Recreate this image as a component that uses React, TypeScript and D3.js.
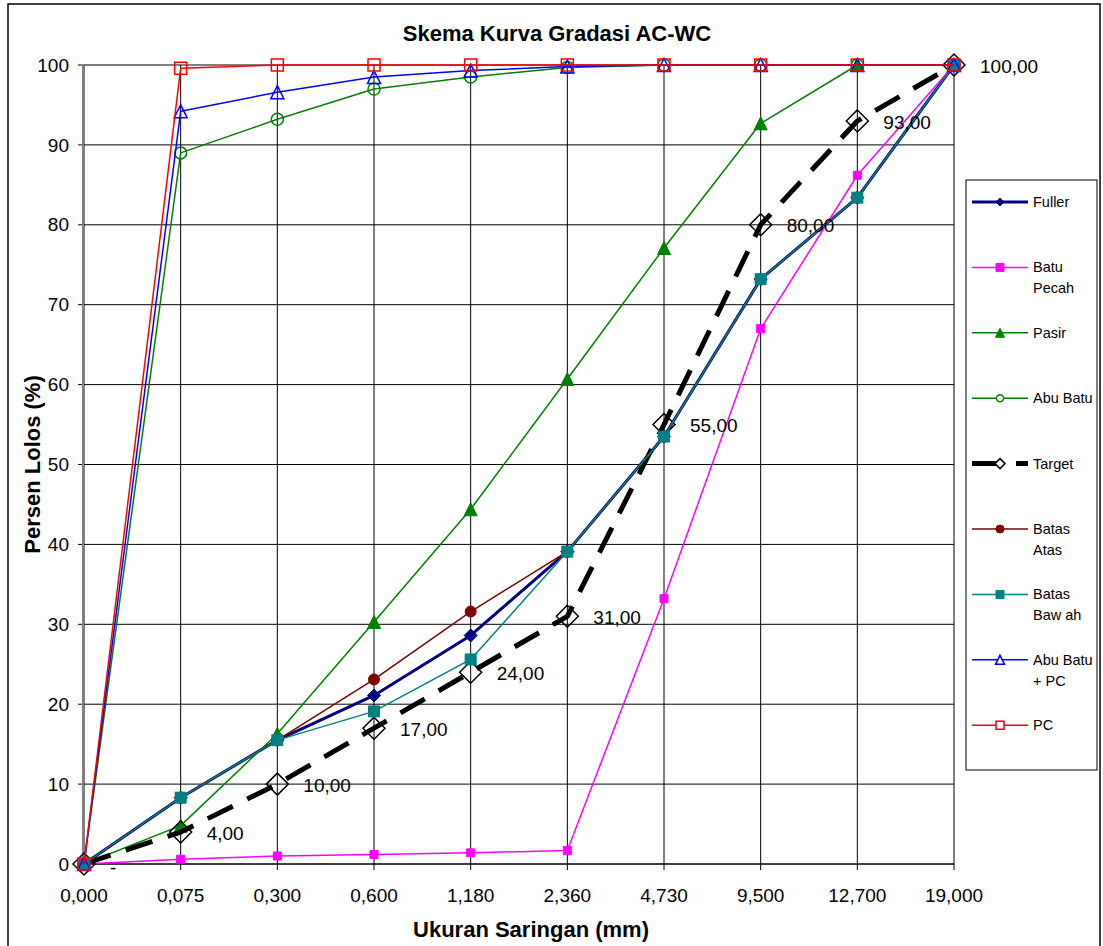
import React from "react";
import * as d3 from "d3";

const categories = ["0,000", "0,075", "0,300", "0,600", "1,180", "2,360", "4,730", "9,500", "12,700", "19,000"];
const yTicks = [0, 10, 20, 30, 40, 50, 60, 70, 80, 90, 100];

const fuller = [0, 8.3, 15.5, 21.1, 28.6, 39.1, 53.5, 73.2, 83.4, 100];
const batuPecah = [0, 0.6, 1.0, 1.2, 1.4, 1.7, 33.2, 67.0, 86.2, 100];
const pasir = [0, 4.8, 16.3, 30.3, 44.4, 60.7, 77.1, 92.7, 100, 100];
const abuBatu = [0, 89.0, 93.2, 97.0, 98.5, 99.7, 100, 100, 100, 100];
const target = [0, 4, 10, 17, 24, 31, 55, 80, 93, 100];
const batasAtas = [0, 8.3, 15.5, 23.1, 31.6, 39.1, 53.5, 73.2, 83.4, 100];
const batasBawah = [0, 8.3, 15.5, 19.1, 25.6, 39.1, 53.5, 73.2, 83.4, 100];
const abuBatuPC = [0, 94.2, 96.6, 98.5, 99.3, 99.8, 100, 100, 100, 100];
const pc = [0, 99.6, 100, 100, 100, 100, 100, 100, 100, 100];

type Marker = "diamond" | "square" | "triangle" | "circle";
interface Series {
  name: string[];
  values: number[];
  color: string;
  width: number;
  marker: Marker;
  size: number;
  fill: string;
  dash?: string;
  legendSize: number;
}

const series: Series[] = [
  { name: ["Fuller"], values: fuller, color: "#000080", width: 3, marker: "diamond", size: 13, fill: "#000080", legendSize: 8 },
  { name: ["Batu", "Pecah"], values: batuPecah, color: "#FF00FF", width: 1.5, marker: "square", size: 8, fill: "#FF00FF", legendSize: 8 },
  { name: ["Pasir"], values: pasir, color: "#008000", width: 1.5, marker: "triangle", size: 13, fill: "#008000", legendSize: 9 },
  { name: ["Abu Batu"], values: abuBatu, color: "#008000", width: 1.5, marker: "circle", size: 12, fill: "none", legendSize: 7 },
  { name: ["Target"], values: target, color: "#000000", width: 5, marker: "diamond", size: 22, fill: "none", dash: "28,16", legendSize: 10 },
  { name: ["Batas", "Atas"], values: batasAtas, color: "#800000", width: 1.5, marker: "circle", size: 11, fill: "#800000", legendSize: 8 },
  { name: ["Batas", "Baw ah"], values: batasBawah, color: "#008080", width: 1.5, marker: "square", size: 11, fill: "#008080", legendSize: 8 },
  { name: ["Abu Batu", "+ PC"], values: abuBatuPC, color: "#0000FF", width: 1.5, marker: "triangle", size: 13, fill: "none", legendSize: 9 },
  { name: ["PC"], values: pc, color: "#FF0000", width: 1.5, marker: "square", size: 12, fill: "none", legendSize: 8 },
];

const W = 1103;
const H = 946;
const FONT = "Liberation Sans, Arial, sans-serif";

function markerPath(type: Marker, cx: number, cy: number, s: number): string {
  const h = s / 2;
  switch (type) {
    case "diamond":
      return `M${cx},${cy - h}L${cx + h},${cy}L${cx},${cy + h}L${cx - h},${cy}Z`;
    case "square":
      return `M${cx - h},${cy - h}H${cx + h}V${cy + h}H${cx - h}Z`;
    case "triangle":
      return `M${cx},${cy - h}L${cx + h},${cy + h}H${cx - h}Z`;
    default: {
      const p = d3.path();
      p.arc(cx, cy, h, 0, Math.PI * 2);
      return p.toString();
    }
  }
}

function fmt(v: number): string {
  if (v === 0) return "-";
  return v.toFixed(2).replace(".", ",");
}

export default function App() {
  const x = d3.scalePoint<string>().domain(categories).range([84, 954]);
  const y = d3.scaleLinear().domain([0, 100]).range([864, 65]);
  const line = d3
    .line<number>()
    .x((_, i) => x(categories[i]) as number)
    .y((d) => y(d));

  const legendX = 966;
  const legendY = 180;
  const legendStep = 65.4;

  return (
    <svg
      width={W}
      height={H}
      style={{ position: "absolute", left: 0, top: 0, background: "#fff" }}
      fontFamily={FONT}
    >
      <rect x={0} y={0} width={W} height={H} fill="#fff" />
      <rect x={8} y={4} width={1092} height={960} fill="none" stroke="#000" strokeWidth={1.5} />

      {/* title */}
      <text x={557} y={41} textAnchor="middle" fontWeight="bold" fontSize={22}>
        Skema Kurva Gradasi AC-WC
      </text>

      {/* horizontal gridlines + y ticks */}
      {yTicks.map((t) => (
        <g key={"y" + t}>
          <line x1={78} x2={954} y1={y(t)} y2={y(t)} stroke="#000" strokeWidth={1} />
          <text x={69} y={y(t)} dy="0.35em" textAnchor="end" fontSize={19}>
            {t}
          </text>
        </g>
      ))}

      {/* vertical gridlines + x ticks */}
      {categories.map((c) => (
        <g key={"x" + c}>
          <line x1={x(c)} x2={x(c)} y1={y(100)} y2={870} stroke="#000" strokeWidth={1} />
          <text x={x(c)} y={902} textAnchor="middle" fontSize={19}>
            {c}
          </text>
        </g>
      ))}

      {/* axes */}
      <line x1={83} x2={83} y1={y(100)} y2={y(0)} stroke="#808080" strokeWidth={2} />
      <line x1={78} x2={954} y1={y(0)} y2={y(0)} stroke="#000" strokeWidth={1} />

      {/* axis titles */}
      <text x={531} y={937} textAnchor="middle" fontWeight="bold" fontSize={22}>
        Ukuran Saringan (mm)
      </text>
      <text
        transform={`translate(40,${(y(0) + y(100)) / 2}) rotate(-90)`}
        textAnchor="middle"
        fontWeight="bold"
        fontSize={22}
      >
        Persen Lolos (%)
      </text>

      {/* series */}
      {series.map((s, si) => (
        <g key={"s" + si}>
          <path
            d={line(s.values) || ""}
            fill="none"
            stroke={s.color}
            strokeWidth={s.width}
            strokeDasharray={s.dash}
            strokeLinejoin="round"
          />
          {s.values.map((v, i) => (
            <path
              key={i}
              d={markerPath(s.marker, x(categories[i]) as number, y(v), s.size)}
              fill={s.fill}
              stroke={s.marker === "diamond" && s.fill === "none" ? "#000" : s.color}
              strokeWidth={s.fill === "none" ? 1.5 : 1}
            />
          ))}
        </g>
      ))}

      {/* target labels */}
      {target.map((v, i) => (
        <text
          key={"tl" + i}
          x={(x(categories[i]) as number) + 26}
          y={y(v) + (v === 0 ? 3 : 1)}
          dy="0.35em"
          fontSize={19}
        >
          {fmt(v)}
        </text>
      ))}

      {/* legend */}
      <rect x={legendX} y={legendY} width={131} height={590} fill="#fff" stroke="#000" strokeWidth={1} />
      {series.map((s, i) => {
        const cy = legendY + 22 + i * legendStep;
        return (
          <g key={"l" + i}>
            <line
              x1={972}
              x2={1028}
              y1={cy}
              y2={cy}
              stroke={s.color}
              strokeWidth={s.width}
              strokeDasharray={s.dash}
            />
            <path
              d={markerPath(s.marker, 1000, cy, s.legendSize)}
              fill={s.fill === "none" ? "#fff" : s.fill}
              stroke={s.marker === "diamond" && s.fill === "none" ? "#000" : s.color}
              strokeWidth={s.fill === "none" ? 1.5 : 1}
            />
            {s.name.map((n, k) => (
              <text key={k} x={1033} y={cy + k * 21} dy="0.35em" fontSize={14.5}>
                {n}
              </text>
            ))}
          </g>
        );
      })}
    </svg>
  );
}
